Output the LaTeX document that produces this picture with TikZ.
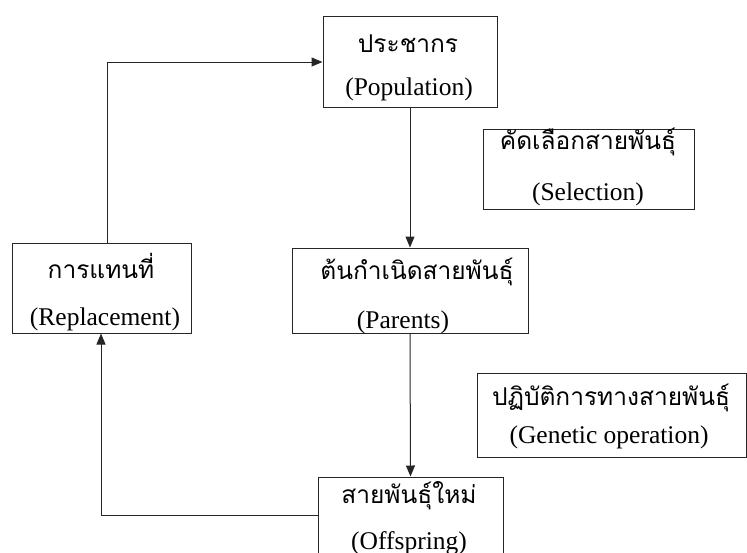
\documentclass[tikz,border=0pt]{standalone}
\usepackage{fontspec}
\setmainfont{Liberation Serif}
\newfontfamily\thaifont[Script=Thai]{Loma}
\usetikzlibrary{arrows.meta}
\tikzset{
  box/.style={draw=black!85, line width=1pt, inner sep=0pt},
  th/.style={font=\thaifont\fontsize{24.5}{30}\selectfont, inner sep=0pt, anchor=base},
  en/.style={font=\fontsize{25.5}{30}\selectfont, inner sep=0pt, anchor=base},
  arr/.style={draw=black!85, line width=1pt, -{Triangle[length=11pt,width=9pt]}},
}
\begin{document}
\begin{tikzpicture}[x=1pt,y=-1pt]
\useasboundingbox (0,0) rectangle (747,552);
% boxes
\node[box, minimum width=174pt, minimum height=91pt] (pop) at (410,61.5) {};
\node[box, minimum width=211pt, minimum height=80pt] (sel) at (588.5,169.5) {};
\node[box, minimum width=179pt, minimum height=90pt] (rep) at (101.5,288) {};
\node[box, minimum width=236pt, minimum height=85pt] (par) at (410,290.5) {};
\node[box, minimum width=269pt, minimum height=84pt] (gen) at (611.5,415) {};
\node[box, minimum width=185pt, minimum height=100pt] (off) at (410.5,527) {};
% texts
\node[th] (popT) at (408,52) {ประชากร};
\node[en] (popE) at (409,95) {(Population)};
\node[th] (selT) at (588,149) {คัดเลือกสายพันธุ์};
\node[en] (selE) at (588,200) {(Selection)};
\node[th] (repT) at (101,278) {การแทนที่};
\node[en] (repE) at (105,325) {(Replacement)};
\node[th] (parT) at (417,279) {ต้นกำเนิดสายพันธุ์};
\node[en] (parE) at (403,328) {(Parents)};
\node[th] (genT) at (611,405) {ปฏิบัติการทางสายพันธุ์};
\node[en] (genE) at (609,443) {(Genetic operation)};
\node[th] (offT) at (409,503) {สายพันธุ์ใหม่};
\node[en] (offE) at (409,549) {(Offspring)};
% connectors
\coordinate (c1) at (107,62);
\coordinate (c2) at (101,515);
\draw[arr] (rep.north -| c1) |- (pop.west |- c1);
\draw[arr] (pop.south) -- (par.north);
\draw[arr] (par.south) -- (off.north);
\draw[arr] (off.west |- c2) -| (rep.south -| c2);
\end{tikzpicture}
\end{document}
